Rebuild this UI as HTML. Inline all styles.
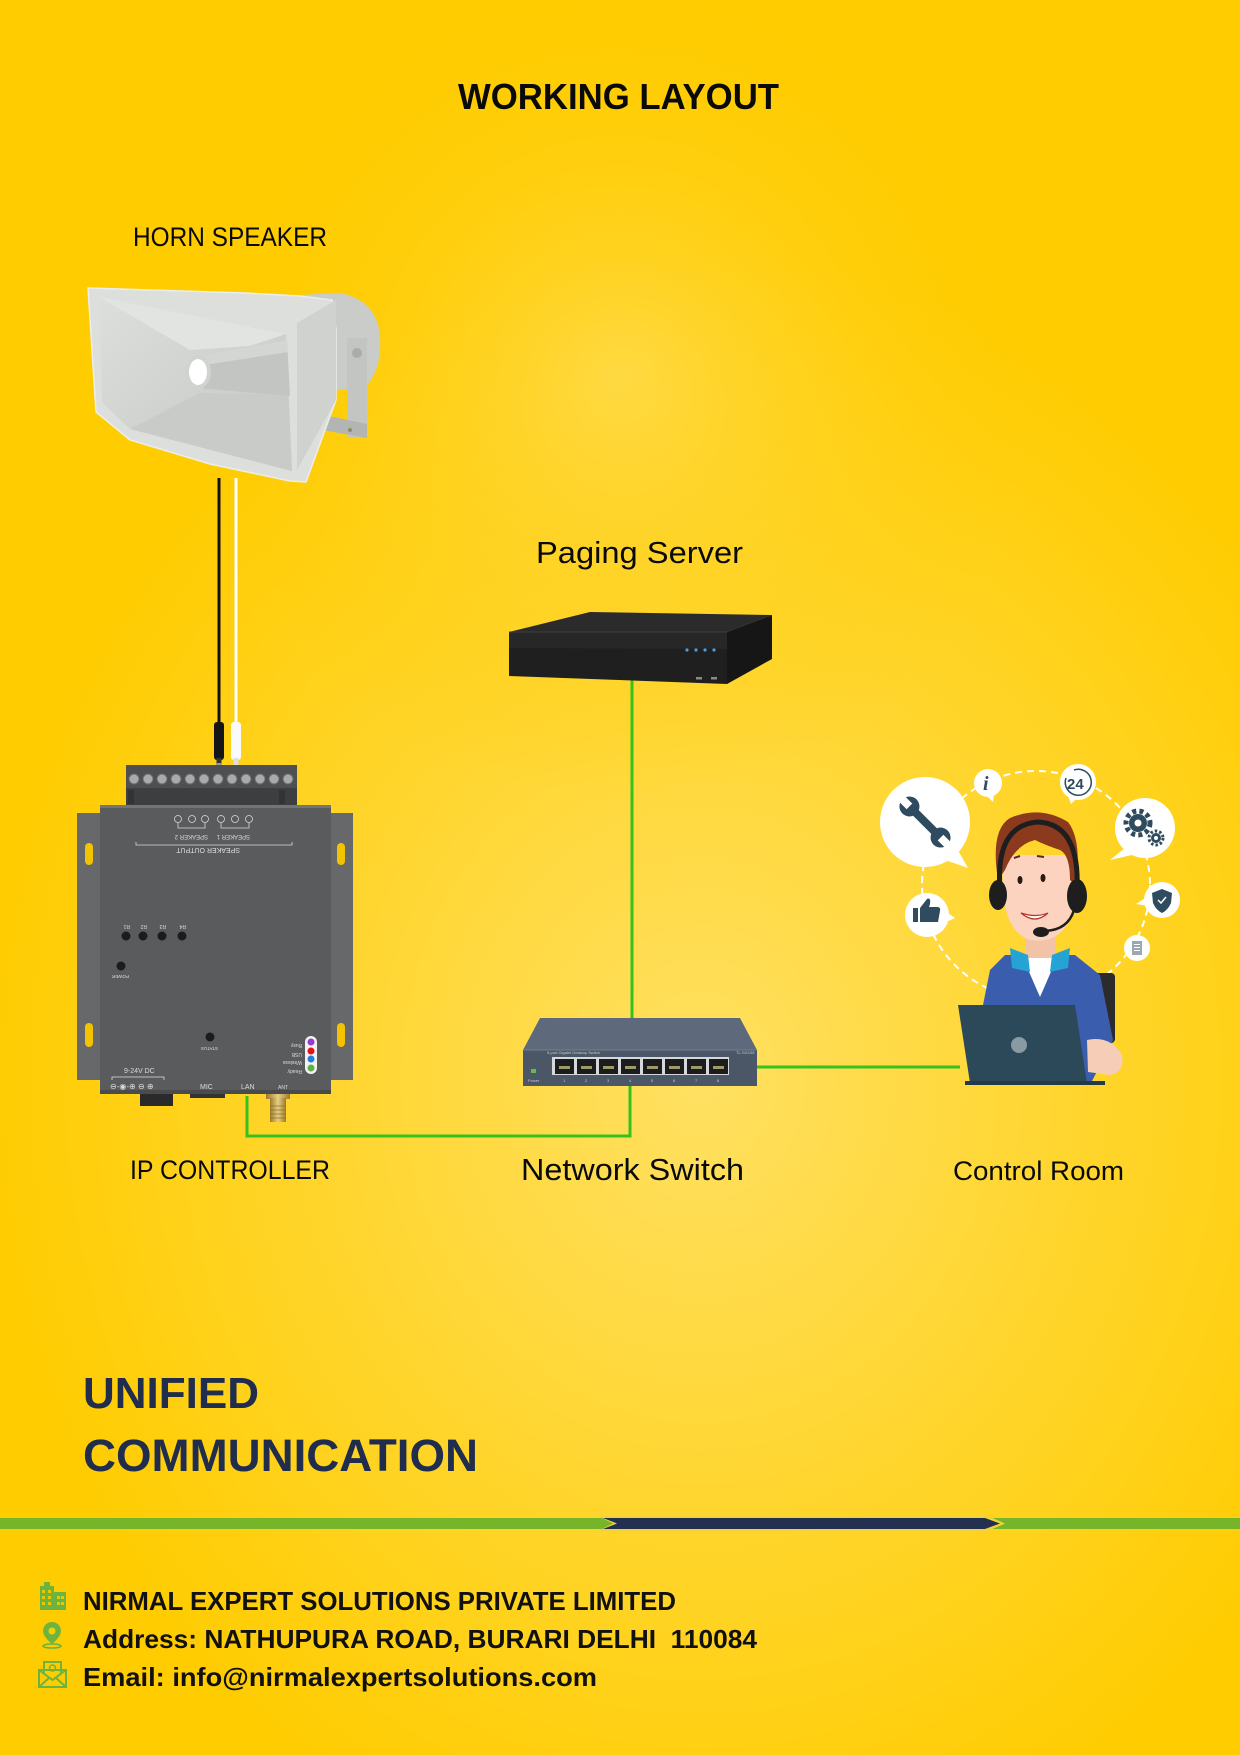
<!DOCTYPE html>
<html><head><meta charset="utf-8"><style>
html,body{margin:0;padding:0;background:#ffcc00;}
svg{display:block;}
</style></head><body>
<svg width="1240" height="1755" viewBox="0 0 1240 1755" xmlns="http://www.w3.org/2000/svg">
<defs>
<radialGradient id="bg1" gradientUnits="userSpaceOnUse" cx="700" cy="1080" r="720" gradientTransform="translate(700 1080) scale(1 1.15) translate(-700 -1080)">
<stop offset="0" stop-color="#ffe062"/><stop offset="0.4" stop-color="#ffd83a"/><stop offset="1" stop-color="#ffcc00"/></radialGradient>
<radialGradient id="bg2" gradientUnits="userSpaceOnUse" cx="620" cy="380" r="420">
<stop offset="0" stop-color="#ffdc50" stop-opacity="0.8"/><stop offset="1" stop-color="#ffcc00" stop-opacity="0"/></radialGradient>
<linearGradient id="mouth" x1="0" y1="0" x2="1" y2="1"><stop offset="0" stop-color="#dcdfdb"/><stop offset="1" stop-color="#c3c6c2"/></linearGradient>
<linearGradient id="gold" x1="0" y1="0" x2="1" y2="0"><stop offset="0" stop-color="#9c7a2c"/><stop offset="0.5" stop-color="#e6cf86"/><stop offset="1" stop-color="#9c7a2c"/></linearGradient>
</defs>
<rect width="1240" height="1755" fill="#ffcc00"/>
<rect width="1240" height="1755" fill="url(#bg1)"/>
<rect width="1240" height="1755" fill="url(#bg2)"/>

<!-- Titles -->
<g font-family="Liberation Sans, Arial, sans-serif">
<text x="458" y="109" font-size="36" font-weight="bold" fill="#0a0a0a" textLength="321" lengthAdjust="spacingAndGlyphs">WORKING LAYOUT</text>
<text x="133" y="246" font-size="27" fill="#0a0a0a" textLength="194" lengthAdjust="spacingAndGlyphs">HORN SPEAKER</text>
<text x="536" y="563" font-size="31" fill="#0a0a0a" textLength="207" lengthAdjust="spacingAndGlyphs">Paging Server</text>
<text x="130" y="1179" font-size="27" fill="#0a0a0a" textLength="200" lengthAdjust="spacingAndGlyphs">IP CONTROLLER</text>
<text x="521" y="1180" font-size="31" fill="#0a0a0a" textLength="223" lengthAdjust="spacingAndGlyphs">Network Switch</text>
<text x="953" y="1180" font-size="27" fill="#0a0a0a" textLength="171" lengthAdjust="spacingAndGlyphs">Control Room</text>
<text x="83" y="1408" font-size="44" font-weight="bold" fill="#202d4c" textLength="176" lengthAdjust="spacingAndGlyphs">UNIFIED</text>
<text x="83" y="1471" font-size="45" font-weight="bold" fill="#202d4c" textLength="395" lengthAdjust="spacingAndGlyphs">COMMUNICATION</text>
<text x="83" y="1610" font-size="26" font-weight="bold" fill="#111" textLength="593" lengthAdjust="spacingAndGlyphs">NIRMAL EXPERT SOLUTIONS PRIVATE LIMITED</text>
<text x="83" y="1648" font-size="26" font-weight="bold" fill="#111" textLength="674" lengthAdjust="spacingAndGlyphs" xml:space="preserve">Address: NATHUPURA ROAD, BURARI DELHI  110084</text>
<text x="83" y="1686" font-size="26" font-weight="bold" fill="#111" textLength="514" lengthAdjust="spacingAndGlyphs">Email: info@nirmalexpertsolutions.com</text>
</g>

<!-- Divider bar -->
<rect x="0" y="1518" width="1240" height="11" fill="#76b52a"/>
<polygon points="598,1516 988,1516 1005,1523.5 988,1531 598,1531 613,1523.5" fill="#f2d23a"/>
<polygon points="603,1518 985,1518 1000,1523.5 985,1529 603,1529 617,1523.5" fill="#23304f"/>

<!-- Footer icons -->
<g fill="#6db33f">
<rect x="40" y="1586" width="14" height="24"/>
<rect x="44" y="1582" width="6" height="5"/>
<rect x="54" y="1592" width="12" height="18"/>
<g fill="#e8c900">
<rect x="42" y="1590" width="3" height="3"/><rect x="48" y="1590" width="3" height="3"/>
<rect x="42" y="1596" width="3" height="3"/><rect x="48" y="1596" width="3" height="3"/>
<rect x="42" y="1602" width="3" height="3"/><rect x="48" y="1602" width="3" height="3"/>
<rect x="57" y="1596" width="3" height="3"/><rect x="61" y="1596" width="3" height="3"/>
<rect x="57" y="1602" width="3" height="3"/><rect x="61" y="1602" width="3" height="3"/>
</g>
<path d="M52,1622 a9,9 0 0 1 9,9 c0,6 -9,13 -9,13 c0,0 -9,-7 -9,-13 a9,9 0 0 1 9,-9z"/>
<circle cx="52" cy="1631" r="3.5" fill="#f5d000"/>
<ellipse cx="52" cy="1646" rx="9" ry="2" fill="none" stroke="#6db33f" stroke-width="1.5"/>
</g>
<g fill="none" stroke="#6db33f" stroke-width="2">
<rect x="39" y="1670" width="27" height="17"/>
<path d="M39,1670 L52.5,1680 L66,1670 M39,1687 L49,1678 M66,1687 L56,1678"/>
<path d="M44,1674 L44,1662 L61,1662 L61,1674"/>
<circle cx="52.5" cy="1668" r="3" stroke-width="1.5"/>
</g>

<!-- Connector lines -->
<g stroke="#36c21e" stroke-width="3" fill="none">
<line x1="632" y1="680" x2="632" y2="1019"/>
<polyline points="630,1086 630,1136 247,1136 247,1096"/>
<line x1="757" y1="1067" x2="960" y2="1067"/>
</g>

<!-- Horn cables -->
<line x1="219" y1="478" x2="219" y2="724" stroke="#111" stroke-width="3"/>
<line x1="236" y1="478" x2="236" y2="724" stroke="#fff" stroke-width="3"/>
<rect x="214" y="722" width="10" height="38" rx="3" fill="#151515"/>
<rect x="216.5" y="758" width="5" height="14" fill="#333"/>
<rect x="216" y="763" width="6" height="2" fill="#999"/>
<rect x="231" y="722" width="10" height="38" rx="3" fill="#fafafa"/>
<rect x="233.5" y="758" width="5" height="14" fill="#ddd"/>

<!-- Horn speaker -->
<g>
<path d="M300,295 L340,293 Q376,300 380,335 Q382,370 366,386 L300,396 Z" fill="#c9ccc8"/>
<rect x="347" y="338" width="20" height="100" fill="#c2c5c1"/>
<polygon points="300,410 367,424 367,438 300,426" fill="#b2b5b1"/>
<circle cx="357" cy="353" r="5" fill="#a9aca8"/>
<circle cx="350" cy="430" r="2" fill="#8f8a60"/>
<polygon points="88,288 245,293 300,296 332,300 336,330 336,400 306,482 290,481 210,464 130,440 96,412 92,350" fill="#dcdfdb" stroke="#eceeeb" stroke-width="1.5"/>
<polygon points="99,297 286,334 292,471 130,429 102,402" fill="url(#mouth)"/>
<polygon points="99,297 286,334 250,346 190,350" fill="#e2e4e1"/>
<polygon points="130,429 292,471 288,395 200,393" fill="#c8cbc7"/>
<polygon points="198,356 287,340 290,396 198,388" fill="#c2c5c1"/>
<polygon points="198,356 287,340 288,352 198,366" fill="#d3d6d2"/>
<ellipse cx="198" cy="372" rx="13" ry="17" fill="#d0d3cf"/>
<ellipse cx="198" cy="372" rx="9" ry="13" fill="#ffffff"/>
<polygon points="297,323 336,300 336,400 297,470" fill="#cfd2ce"/>
</g>

<!-- Paging server -->
<g>
<polygon points="590,612 772,615 727,632 509,632" fill="#2b2b2b"/>
<polygon points="509,632 727,632 727,684 509,676" fill="#1f1f1f"/>
<polygon points="509,632 727,632 727,649 509,648" fill="#272727"/>
<polygon points="727,632 772,615 772,659 727,684" fill="#161616"/>
<line x1="509" y1="632" x2="727" y2="632" stroke="#3d3d3d" stroke-width="1"/>
<circle cx="687" cy="650" r="1.6" fill="#4a9ee0"/>
<circle cx="696" cy="650" r="1.6" fill="#4a9ee0"/>
<circle cx="705" cy="650" r="1.6" fill="#4a9ee0"/>
<circle cx="714" cy="650" r="1.6" fill="#4a9ee0"/>
<rect x="696" y="677" width="6" height="2.5" fill="#888"/>
<rect x="711" y="677" width="6" height="2.5" fill="#888"/>
</g>

<!-- Network switch -->
<g>
<polygon points="540,1018 740,1018 757,1050 523,1050" fill="#5e6a7b"/>
<rect x="523" y="1050" width="234" height="36" fill="#4b5667"/>
<line x1="523" y1="1050" x2="757" y2="1050" stroke="#73808f" stroke-width="1"/>
<rect x="552" y="1057" width="177" height="18" fill="#d5d8db"/>
<g fill="#1c1c1c">
<rect x="555" y="1059" width="19" height="15"/><rect x="577" y="1059" width="19" height="15"/>
<rect x="599" y="1059" width="19" height="15"/><rect x="621" y="1059" width="19" height="15"/>
<rect x="643" y="1059" width="19" height="15"/><rect x="665" y="1059" width="19" height="15"/>
<rect x="687" y="1059" width="19" height="15"/><rect x="709" y="1059" width="19" height="15"/>
</g>
<g fill="#9a9a6a">
<rect x="559" y="1066" width="11" height="3"/><rect x="581" y="1066" width="11" height="3"/>
<rect x="603" y="1066" width="11" height="3"/><rect x="625" y="1066" width="11" height="3"/>
<rect x="647" y="1066" width="11" height="3"/><rect x="669" y="1066" width="11" height="3"/>
<rect x="691" y="1066" width="11" height="3"/><rect x="713" y="1066" width="11" height="3"/>
</g>
<rect x="531" y="1069" width="5" height="4" fill="#5fbf4a"/>
<g font-family="Liberation Sans, Arial, sans-serif" font-size="4" fill="#c8ccd2">
<text x="547" y="1054">5-port Gigabit Desktop Switch</text>
<text x="736" y="1054">TL-SG105</text>
<text x="528" y="1082">Power</text>
<text x="563" y="1082">1</text><text x="585" y="1082">2</text><text x="607" y="1082">3</text><text x="629" y="1082">4</text>
<text x="651" y="1082">5</text><text x="673" y="1082">6</text><text x="695" y="1082">7</text><text x="717" y="1082">8</text>
</g>
</g>

<!-- IP Controller -->
<g>
<rect x="126" y="765" width="171" height="24" fill="#4e4f50"/>
<rect x="126" y="788" width="171" height="17" fill="#3d3e3f"/>
<rect x="128" y="790" width="6" height="14" fill="#333"/>
<rect x="279" y="790" width="6" height="14" fill="#333"/>
<g fill="#a9aaab" stroke="#6a6b6c" stroke-width="1">
<circle cx="134" cy="779" r="5"/><circle cx="148" cy="779" r="5"/><circle cx="162" cy="779" r="5"/>
<circle cx="176" cy="779" r="5"/><circle cx="190" cy="779" r="5"/><circle cx="204" cy="779" r="5"/>
<circle cx="218" cy="779" r="5"/><circle cx="232" cy="779" r="5"/><circle cx="246" cy="779" r="5"/>
<circle cx="260" cy="779" r="5"/><circle cx="274" cy="779" r="5"/><circle cx="288" cy="779" r="5"/>
</g>
<rect x="77" y="813" width="25" height="267" fill="#67686a"/>
<rect x="329" y="813" width="24" height="267" fill="#67686a"/>
<g fill="#f3c300">
<rect x="85" y="843" width="8" height="22" rx="4"/><rect x="85" y="1023" width="8" height="24" rx="4"/>
<rect x="337" y="843" width="8" height="22" rx="4"/><rect x="337" y="1023" width="8" height="24" rx="4"/>
</g>
<rect x="100" y="805" width="231" height="289" fill="#5a5b5d"/>
<rect x="100" y="805" width="231" height="3" fill="#737476"/>
<rect x="100" y="1090" width="231" height="4" fill="#4a4b4c"/>
<g fill="none" stroke="#d8d8d8" stroke-width="0.8">
<circle cx="178" cy="819" r="3.5"/><circle cx="192" cy="819" r="3.5"/><circle cx="205" cy="819" r="3.5"/>
<circle cx="221" cy="819" r="3.5"/><circle cx="235" cy="819" r="3.5"/><circle cx="249" cy="819" r="3.5"/>
<path d="M136,842 L136,845 L292,845 L292,842"/>
<path d="M178,823 L178,828 L205,828 L205,823 M221,823 L221,828 L249,828 L249,823"/>
</g>
<g font-family="Liberation Sans, Arial, sans-serif" fill="#dcdcdc">
<text transform="translate(240,848) rotate(180)" font-size="7">SPEAKER OUTPUT</text>
<text transform="translate(208,835) rotate(180)" font-size="6">SPEAKER 2</text>
<text transform="translate(250,835) rotate(180)" font-size="6">SPEAKER 1</text>
<text transform="translate(130,925) rotate(180)" font-size="5">R1</text>
<text transform="translate(147,925) rotate(180)" font-size="5">R2</text>
<text transform="translate(166,925) rotate(180)" font-size="5">R3</text>
<text transform="translate(186,925) rotate(180)" font-size="5">R4</text>
<text transform="translate(129,975) rotate(180)" font-size="4.5">POWER</text>
<text transform="translate(218,1047) rotate(180)" font-size="4.5">STATUS</text>
<text transform="translate(302,1044) rotate(180)" font-size="5">Busy</text>
<text transform="translate(302,1053) rotate(180)" font-size="5">USB</text>
<text transform="translate(302,1061) rotate(180)" font-size="5">Wireless</text>
<text transform="translate(302,1070) rotate(180)" font-size="5">Ready</text>
<text x="124" y="1073" font-size="7">9-24V DC</text>
<text x="200" y="1089" font-size="7">MIC</text>
<text x="241" y="1089" font-size="7">LAN</text>
<text x="278" y="1089" font-size="5">ANT</text>
<text x="110" y="1089" font-size="8">⊖-◉-⊕ ⊖ ⊕</text>
</g>
<path d="M112,1080 L112,1077 L164,1077 L164,1080" fill="none" stroke="#ddd" stroke-width="0.8"/>
<g fill="#1c1c1c">
<circle cx="126" cy="936" r="4.5"/><circle cx="143" cy="936" r="4.5"/><circle cx="162" cy="936" r="4.5"/><circle cx="182" cy="936" r="4.5"/>
<circle cx="121" cy="966" r="4.5"/><circle cx="210" cy="1037" r="4.5"/>
</g>
<rect x="305" y="1036" width="12" height="38" rx="6" fill="#f2f2f2"/>
<circle cx="311" cy="1042" r="3.5" fill="#9a38d0"/>
<circle cx="311" cy="1051" r="3.5" fill="#e0141b"/>
<circle cx="311" cy="1059" r="3.5" fill="#1f7fe0"/>
<circle cx="311" cy="1068" r="3.5" fill="#5fb04a"/>
<rect x="140" y="1094" width="33" height="12" fill="#2a2a2a"/>
<rect x="190" y="1094" width="35" height="4" fill="#333"/>
<rect x="266" y="1094" width="24" height="5" fill="url(#gold)"/>
<rect x="270" y="1098" width="16" height="24" fill="url(#gold)"/>
<g stroke="#8a6a22" stroke-width="0.7"><line x1="270" y1="1106" x2="286" y2="1106"/><line x1="270" y1="1110" x2="286" y2="1110"/><line x1="270" y1="1114" x2="286" y2="1114"/><line x1="270" y1="1118" x2="286" y2="1118"/></g>
</g>

<!-- Control room illustration -->
<g>
<circle cx="1036" cy="885" r="114" fill="none" stroke="#fff" stroke-width="2" stroke-dasharray="7 5"/>
<g fill="#fff">
<circle cx="925" cy="822" r="45"/><polygon points="945,860 968,868 955,845"/>
<circle cx="988" cy="783" r="14"/><polygon points="986,795 993,802 994,794"/>
<circle cx="1078" cy="782" r="18"/><polygon points="1068,795 1071,804 1077,798"/>
<circle cx="1145" cy="828" r="30"/><polygon points="1125,848 1110,860 1132,855"/>
<circle cx="1162" cy="900" r="18"/><polygon points="1147,897 1136,904 1148,906"/>
<circle cx="1137" cy="948" r="13"/>
<circle cx="927" cy="915" r="22"/><polygon points="945,911 955,918 946,922"/>
</g>
<g fill="#2f4b60">
<g transform="translate(925,822) rotate(-45)">
<rect x="-4" y="-24" width="8" height="48" rx="3"/>
<circle cx="0" cy="-22" r="10"/><circle cx="0" cy="22" r="10"/>
</g>
<g transform="translate(925,822) rotate(-45)" fill="#fff">
<rect x="-4" y="-34" width="8" height="12"/><rect x="-4" y="22" width="8" height="12"/>
</g>
<text x="983" y="790" font-family="Liberation Serif, serif" font-style="italic" font-weight="bold" font-size="20">i</text>
<text x="1067" y="789" font-family="Liberation Sans, sans-serif" font-weight="bold" font-size="15">24</text>
<path d="M1066,778 A13,13 0 1 0 1074,770" fill="none" stroke="#2f4b60" stroke-width="1.5"/>
<circle cx="1138" cy="823" r="9"/>
<circle cx="1138" cy="823" r="12" fill="none" stroke="#2f4b60" stroke-width="5" stroke-dasharray="4 3.2"/>
<circle cx="1138" cy="823" r="3.5" fill="#fff"/>
<circle cx="1156" cy="838" r="5"/>
<circle cx="1156" cy="838" r="7" fill="none" stroke="#2f4b60" stroke-width="3" stroke-dasharray="2.5 2"/>
<circle cx="1156" cy="838" r="2" fill="#fff"/>
<path d="M1162,889 L1172,893 L1171,903 Q1168,910 1162,913 Q1156,910 1153,903 L1152,893 Z"/>
<path d="M1158,900 L1161,903 L1166,897" fill="none" stroke="#fff" stroke-width="1.5"/>
<rect x="1132" y="941" width="10" height="14" fill="#9aa8b2"/>
<rect x="1134" y="944" width="6" height="1" fill="#fff"/><rect x="1134" y="947" width="6" height="1" fill="#fff"/><rect x="1134" y="950" width="6" height="1" fill="#fff"/>
<rect x="913" y="908" width="5" height="14"/>
<path d="M920,908 L927,899 Q931,897 930,904 L929,907 L938,907 Q941,908 940,911 L938,922 L920,922 Z"/>
</g>
<rect x="1093" y="973" width="22" height="70" rx="4" fill="#2b2b2b"/>
<path d="M1005,955 L1075,955 L1100,975 L1113,1040 L1090,1085 L985,1085 L983,1005 L990,970 Z" fill="#3a5ead"/>
<rect x="1025" y="930" width="30" height="32" fill="#f3c3a8"/>
<polygon points="1023,958 1057,958 1040,997" fill="#fff"/>
<polygon points="1010,948 1028,955 1030,972 1012,968" fill="#24a3d4"/>
<polygon points="1070,948 1052,955 1050,972 1068,968" fill="#24a3d4"/>
<path d="M1003,870 Q1000,930 1030,940 Q1060,945 1072,915 Q1080,885 1072,855 L1003,855 Z" fill="#fbd3be"/>
<path d="M998,880 Q990,830 1010,818 Q1040,805 1068,822 Q1082,840 1076,885 L1070,880 Q1070,855 1060,850 Q1045,845 1035,840 Q1015,845 1005,870 Z" fill="#8b3a1e"/>
<path d="M1000,890 Q995,825 1038,822 Q1080,824 1077,890" fill="none" stroke="#1e1e1e" stroke-width="5"/>
<ellipse cx="998" cy="895" rx="9" ry="15" fill="#1e1e1e"/>
<ellipse cx="1077" cy="896" rx="10" ry="17" fill="#1e1e1e"/>
<path d="M1074,910 Q1068,930 1045,931" fill="none" stroke="#1e1e1e" stroke-width="2.5"/>
<ellipse cx="1041" cy="932" rx="8" ry="5" fill="#1e1e1e"/>
<ellipse cx="1020" cy="880" rx="2.5" ry="4" fill="#2a1a12"/>
<ellipse cx="1043" cy="878" rx="2.5" ry="4" fill="#2a1a12"/>
<path d="M1014,858 L1020,856 M1037,856 L1044,857" stroke="#5a2a15" stroke-width="2"/>
<path d="M1021,913 Q1035,925 1048,913 Q1036,918 1021,913 Z" fill="#fff" stroke="#b8302a" stroke-width="1.2"/>
<polygon points="958,1005 1075,1005 1087,1083 970,1083" fill="#2c4959"/>
<rect x="965" y="1081" width="140" height="4" fill="#243a47"/>
<circle cx="1019" cy="1045" r="8" fill="#8a9aa3"/>
<path d="M1087,1040 Q1110,1035 1122,1055 Q1125,1072 1110,1075 L1088,1072 Z" fill="#f6cdb6"/>
</g>
</svg>
</body></html>
